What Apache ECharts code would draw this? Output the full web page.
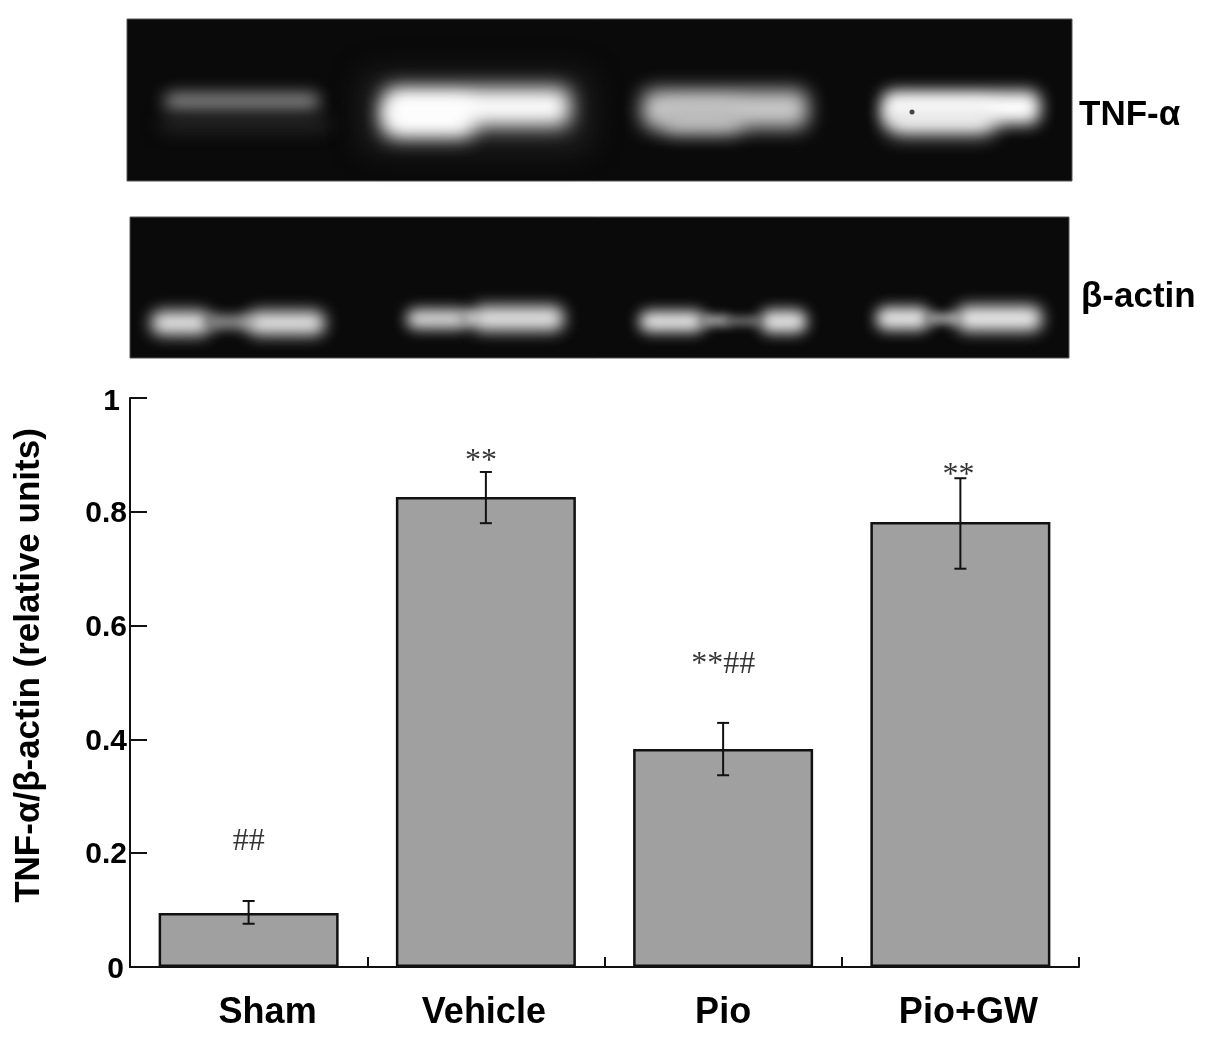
<!DOCTYPE html>
<html>
<head>
<meta charset="utf-8">
<title>TNF-a</title>
<script src="https://cdn.jsdelivr.net/npm/echarts@6/dist/echarts.min.js"></script>
<style>
    html, body {margin: 0; padding: 0; background: #fff;}
    #main {width: 1205px; height: 1038px;}
</style>
</head>
<body>
<div id="main"></div>
<script>
var categories = ['Sham', 'Vehicle', 'Pio', 'Pio+GW'];
var values = [0.095, 0.826, 0.383, 0.782];
var errLow = [0.076, 0.78, 0.337, 0.70];
var errHigh = [0.116, 0.87, 0.429, 0.859];
var marks = ['##', '**', '**##', '**'];
var markY = [0.22, 0.888, 0.532, 0.864];

var font = '"Liberation Sans", Arial, sans-serif';
var ink = '#111';

// 胶图条带 [x, y, w, h, 灰度, 模糊]
var gelPanels = [
    [127, 19, 945, 162],
    [130, 217, 939, 141]
];
var gelBands = [
    // TNF-a
    [164, 93, 156, 17, '#8c8c8c', 16],
    [160, 118, 170, 12, '#2e2e2e', 18],
    [362, 74, 228, 76, '#222', 30],
    [384, 88, 186, 38, '#fff', 20],
    [384, 100, 90, 37, '#fff', 20],
    [642, 90, 166, 38, '#cacaca', 19],
    [662, 104, 80, 28, '#bdbdbd', 19],
    [882, 91, 158, 33, '#fff', 16],
    [887, 105, 108, 29, '#eee', 19],
    // b-actin
    [151, 311, 60, 24, '#e4e4e4', 15],
    [205, 315, 50, 14, '#909090', 12],
    [247, 311, 78, 24, '#e4e4e4', 15],
    [406, 309, 64, 20, '#d8d8d8', 14],
    [460, 312, 20, 12, '#aaa', 10],
    [471, 306, 93, 25, '#e4e4e4', 15],
    [639, 311, 66, 21, '#e6e6e6', 14],
    [700, 315, 30, 11, '#a5a5a5', 10],
    [725, 317, 35, 8, '#808080', 10],
    [760, 310, 47, 23, '#e4e4e4', 14],
    [876, 307, 54, 23, '#e6e6e6', 14],
    [925, 313, 35, 11, '#a0a0a0', 10],
    [956, 306, 86, 25, '#eeeeee', 15]
];

function buildGraphic() {
    var list = [];
    gelPanels.forEach(function (p) {
        list.push({
            type: 'rect', silent: true,
            shape: {x: p[0], y: p[1], width: p[2], height: p[3]},
            style: {fill: '#0a0a0a', stroke: '#555', lineWidth: 1}
        });
    });
    // 图形放在画布外，只留下模糊的阴影
    gelBands.forEach(function (b) {
        list.push({
            type: 'rect', silent: true,
            shape: {x: b[0] - 3000, y: b[1], width: b[2], height: b[3], r: Math.min(b[3] / 2, 10)},
            style: {fill: '#000', shadowColor: b[4], shadowBlur: b[5], shadowOffsetX: 3000}
        });
    });
    list.push({
        type: 'circle', silent: true,
        shape: {cx: 912, cy: 112, r: 2.5},
        style: {fill: '#444'}
    });
    list.push({
        type: 'text', silent: true, x: 1079, y: 115,
        style: {text: 'TNF-α', fill: '#000', font: 'bold 35px ' + font, textVerticalAlign: 'middle'}
    });
    list.push({
        type: 'text', silent: true, x: 1081, y: 297,
        style: {text: 'β-actin', fill: '#000', font: 'bold 35px ' + font, textVerticalAlign: 'middle'}
    });
    return list;
}

// 类目标签的水平偏移
var labelRich = {};
var labelPad = [[0, 0, 0, 38], [0, 4, 0, 0], [0, 0, 0, 0], [0, 0, 0, 16]];
categories.forEach(function (c, i) {
    labelRich['c' + i] = {fontFamily: font, fontWeight: 'bold', fontSize: 36, color: '#000', padding: labelPad[i]};
});

// 1 和 0 的刻度标签比其它的更靠左
var tickStyle = {fontFamily: font, fontWeight: 'bold', fontSize: 30, color: '#000'};
var tickRich = {
    n: Object.assign({padding: [4, 0, 0, 0]}, tickStyle),
    one: Object.assign({padding: [7, 7, 0, 0]}, tickStyle),
    zero: Object.assign({padding: [5, 3, 0, 0]}, tickStyle)
};

var markOffset = [[0, 0], [-5, 0], [0, 0], [-2, 0]];

var myChart = echarts.init(document.getElementById('main'), null, {renderer: 'canvas'});

var option = {
    animation: false,
    backgroundColor: '#fff',
    grid: {left: 130, right: 126, top: 398, bottom: 71},
    xAxis: {
        type: 'category',
        data: categories,
        axisLine: {lineStyle: {color: ink, width: 2}},
        axisTick: {show: true, alignWithLabel: false, inside: true, length: 10, lineStyle: {color: ink, width: 2}},
        axisLabel: {
            margin: 28,
            interval: 0,
            formatter: function (v) {
                return '{c' + categories.indexOf(v) + '|' + v + '}';
            },
            rich: labelRich
        }
    },
    yAxis: {
        type: 'value',
        min: 0,
        max: 1,
        interval: 0.2,
        name: 'TNF-α/β-actin (relative units)',
        nameLocation: 'middle',
        nameRotate: 90,
        nameGap: 83,
        nameTextStyle: {fontWeight: 'bold', fontSize: 35, fontFamily: font, color: '#000', padding: [0, 0, 0, 34]},
        splitLine: {show: false},
        axisLine: {show: true, lineStyle: {color: ink, width: 2}},
        axisTick: {show: true, inside: true, length: 17, lineStyle: {color: ink, width: 2}},
        axisLabel: {
            margin: 3,
            formatter: function (v) {
                if (v === 1) return '{one|1}';
                if (v === 0) return '{zero|0}';
                return '{n|' + v + '}';
            },
            rich: tickRich
        }
    },
    series: [
        {
            type: 'bar',
            data: values,
            barWidth: 180,
            itemStyle: {color: '#a0a0a0', borderColor: ink, borderWidth: 2.5}
        },
        {
            type: 'custom',
            data: categories.map(function (c, i) {
                return [i, errLow[i], errHigh[i]];
            }),
            renderItem: function (params, api) {
                var x = api.coord([api.value(0), 0])[0];
                var lo = api.coord([api.value(0), api.value(1)])[1];
                var hi = api.coord([api.value(0), api.value(2)])[1];
                var style = {stroke: ink, lineWidth: 2, fill: 'none'};
                return {
                    type: 'group',
                    children: [
                        {type: 'line', shape: {x1: x, y1: lo, x2: x, y2: hi}, style: style},
                        {type: 'line', shape: {x1: x - 6, y1: lo, x2: x + 6, y2: lo}, style: style},
                        {type: 'line', shape: {x1: x - 6, y1: hi, x2: x + 6, y2: hi}, style: style}
                    ]
                };
            },
            z: 5
        },
        {
            type: 'scatter',
            data: markY.map(function (v, i) {
                return {value: v, label: {offset: markOffset[i]}};
            }),
            symbolSize: 0,
            label: {
                show: true,
                position: 'inside',
                fontFamily: '"Liberation Serif", serif',
                fontSize: 32,
                color: '#000',
                formatter: function (p) {
                    return marks[p.dataIndex];
                }
            },
            z: 6
        }
    ],
    graphic: buildGraphic()
};

myChart.setOption(option);
</script>
</body>
</html>
